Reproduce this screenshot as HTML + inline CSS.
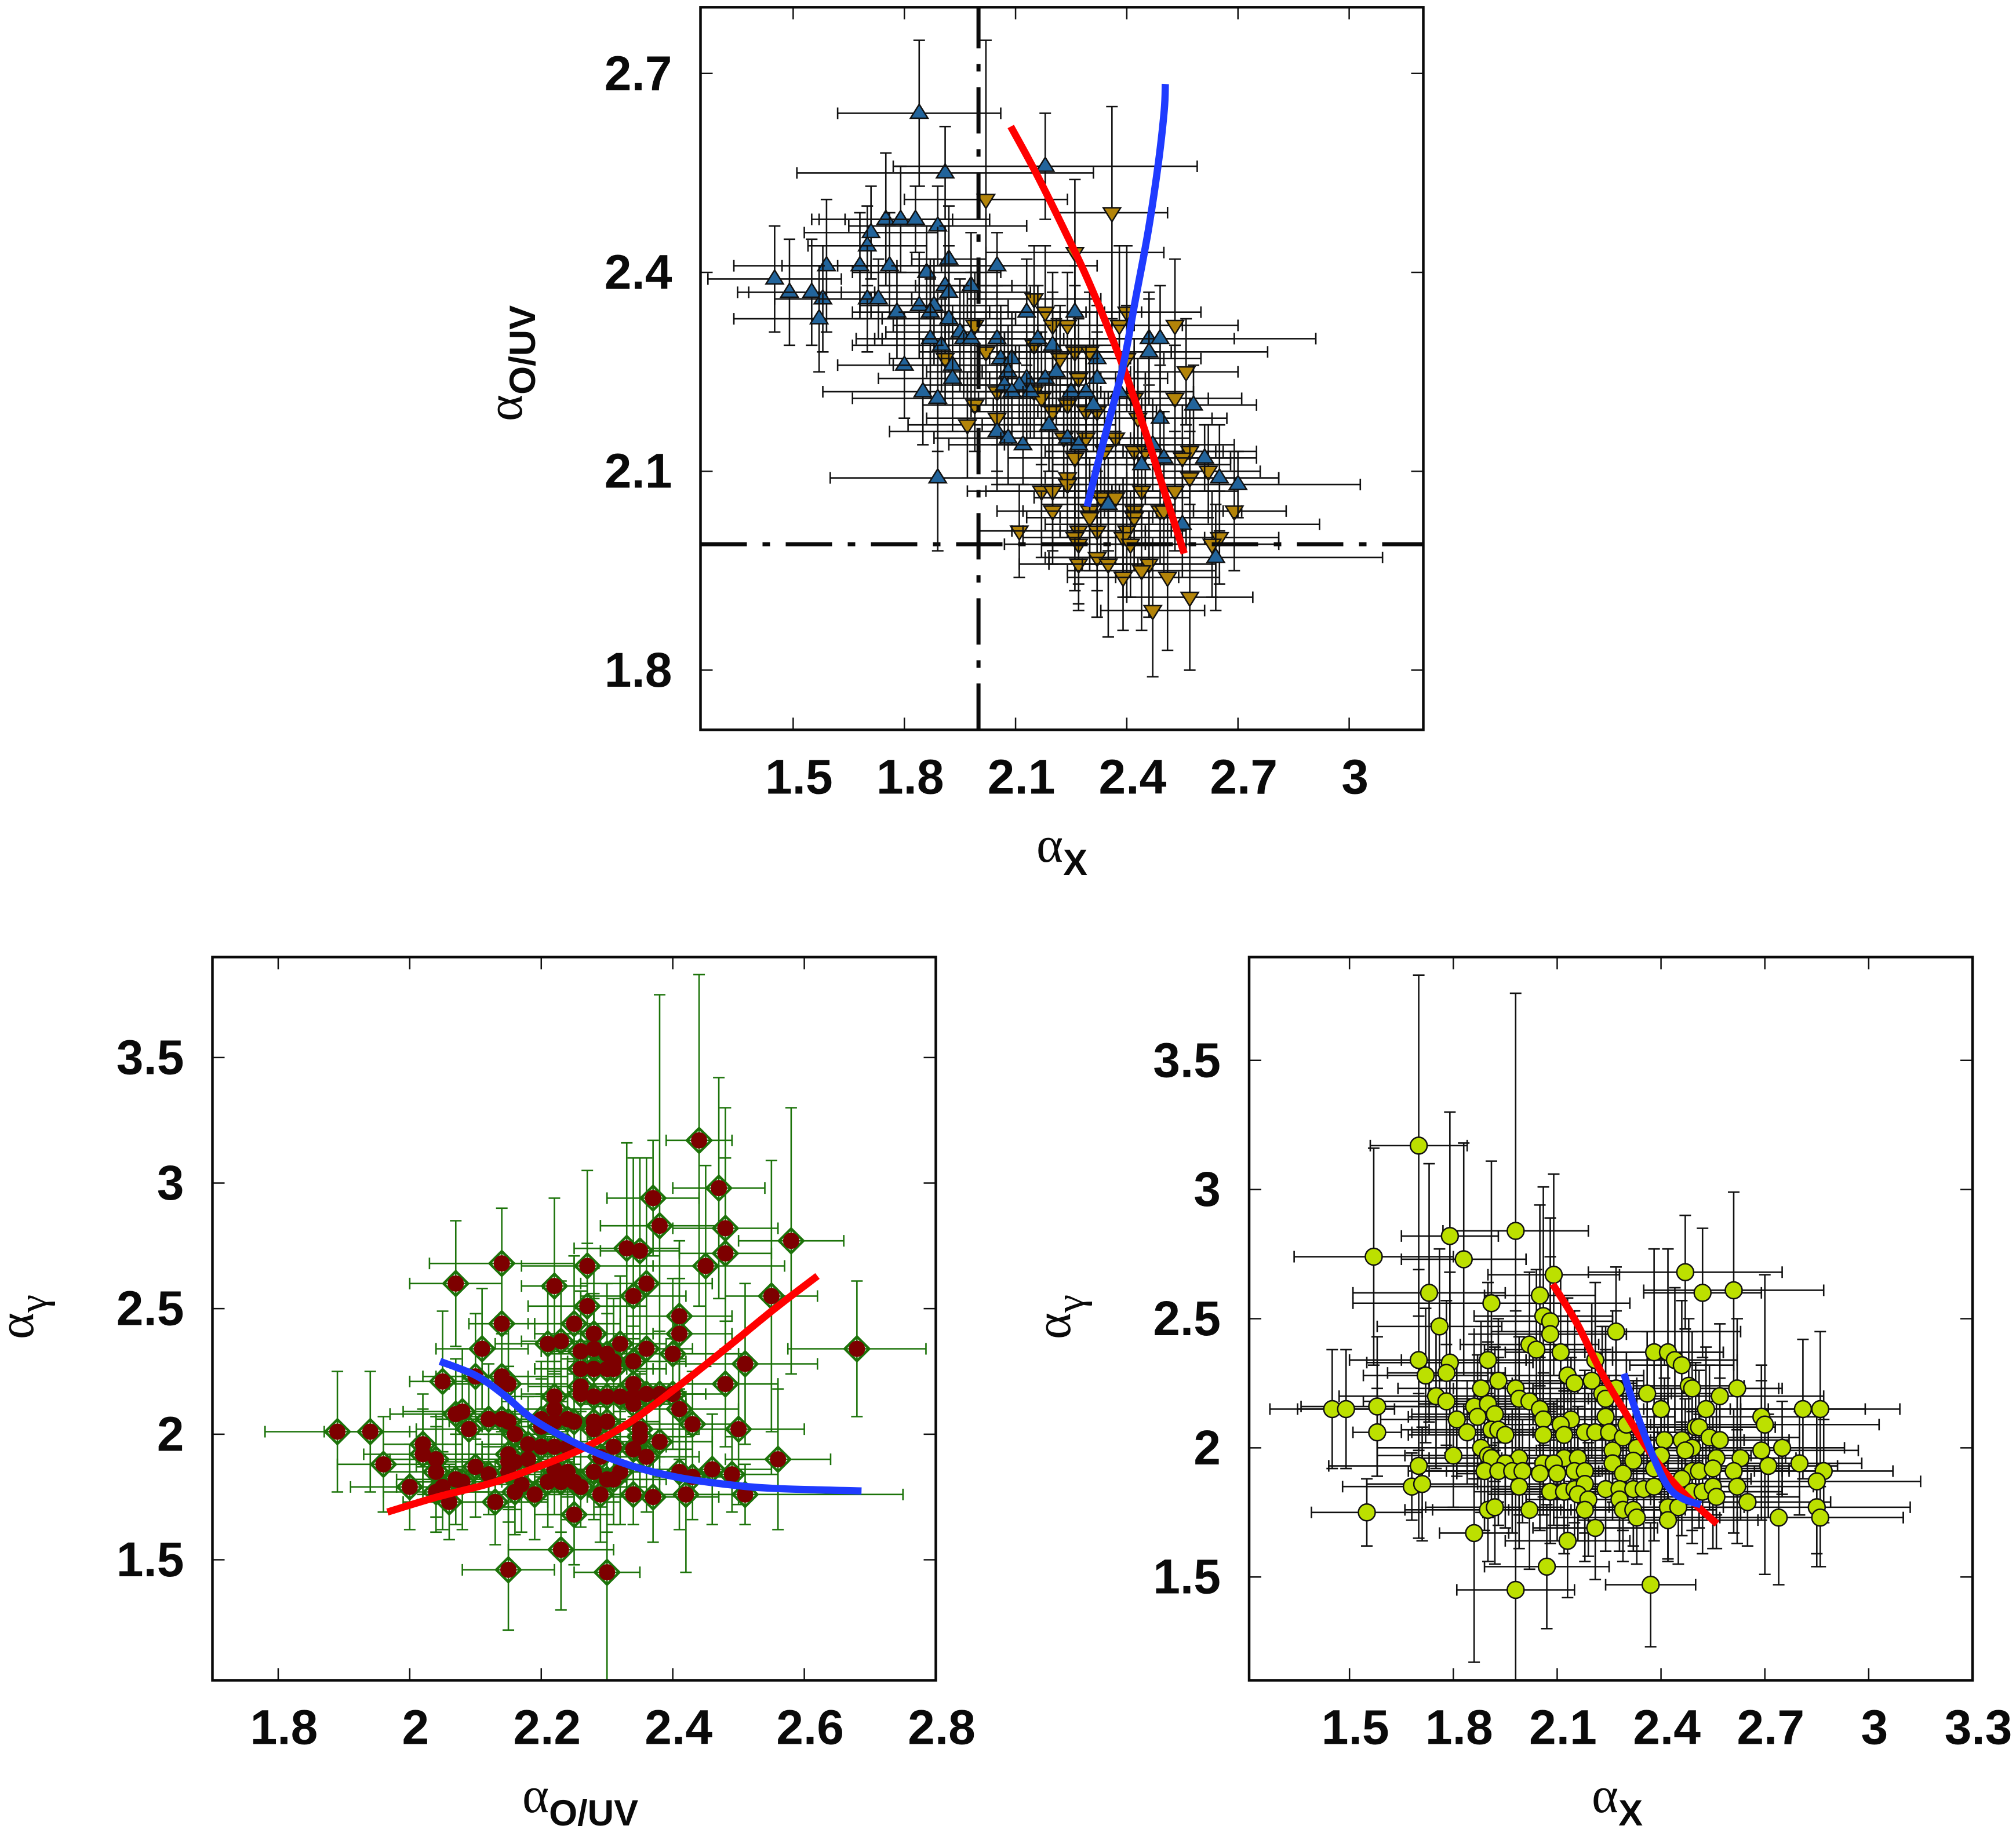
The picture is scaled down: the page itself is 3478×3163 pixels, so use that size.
<!DOCTYPE html>
<html lang="en">
<head>
<meta charset="utf-8">
<title>Spectral index scatter panels</title>
<style>
html,body{margin:0;padding:0;background:#fff;width:3478px;height:3163px;overflow:hidden}
svg{display:block}
.tick-label{font-family:"Liberation Sans",sans-serif;font-weight:700;font-size:84px;fill:#0a0a0a}
.sym{font-family:"Liberation Serif",serif;font-size:88px;font-weight:400;fill:#0a0a0a}
.sub{font-family:"Liberation Sans",sans-serif;font-size:63px;font-weight:700;fill:#0a0a0a}
.subg{font-family:"Liberation Serif",serif;font-size:70px;font-weight:400;fill:#0a0a0a}
</style>
</head>
<body>
<svg id="chart" xmlns="http://www.w3.org/2000/svg" width="3478" height="3163" viewBox="0 0 3478 3163">
  <defs>
    <clipPath id="clip-top"><rect x="1209" y="12" width="1247" height="1247"/></clipPath>
    <clipPath id="clip-left"><rect x="366" y="1651" width="1248" height="1248"/></clipPath>
    <clipPath id="clip-right"><rect x="2155" y="1651" width="1248" height="1248"/></clipPath>
  </defs>
  <g id="panel-top"></g>
  <g id="panel-left"></g>
  <g id="panel-right"></g>
  <text class="sym" x="1788" y="1487">α<tspan class="sub" dy="23">X</tspan></text>
  <text class="sym" transform="translate(900,727) rotate(-90)">α<tspan class="sub" dy="23">O/UV</tspan></text>
  <text class="sym" x="901" y="3127">α<tspan class="sub" dy="23">O/UV</tspan></text>
  <text class="sym" transform="translate(57,2311) rotate(-90)">α<tspan class="subg" dy="23">γ</tspan></text>
  <text class="sym" x="2746" y="3127">α<tspan class="sub" dy="23">X</tspan></text>
  <text class="sym" transform="translate(1846,2311) rotate(-90)">α<tspan class="subg" dy="23">γ</tspan></text>
</svg>
<script>
// ---------- tick values ----------
const topXTicks = [1.5,1.8,2.1,2.4,2.7,3];
const topXTickLabels = ["1.5","1.8","2.1","2.4","2.7","3"];
const topYTicks = [1.8,2.1,2.4,2.7];
const topYTickLabels = ["1.8","2.1","2.4","2.7"];
const leftXTicks = [1.8,2,2.2,2.4,2.6,2.8];
const leftXTickLabels = ["1.8","2","2.2","2.4","2.6","2.8"];
const gammaTicks = [1.5,2,2.5,3,3.5];
const gammaTickLabels = ["1.5","2","2.5","3","3.5"];
const rightXTicks = [1.5,1.8,2.1,2.4,2.7,3,3.3];
const rightXTickLabels = ["1.5","1.8","2.1","2.4","2.7","3","3.3"];

// ---------- top panel: blue up-triangles ----------
const blueX = [1.84,1.91,2.18,1.75,1.79,1.83,1.89,1.71,1.70,1.68,
1.59,1.76,1.86,1.92,2.05,1.45,1.49,1.55,1.58,1.57,
1.91,1.92,1.98,1.70,1.73,1.84,1.88,1.87,1.78,1.92,
2.13,2.26,1.95,1.87,1.90,1.96,1.98,2.05,2.16,2.46,
2.49,2.20,2.46,2.06,2.09,2.32,1.80,1.93,2.08,2.21,
1.93,2.18,2.13,2.32,2.07,2.11,1.85,2.09,2.14,2.25,
2.29,2.38,2.58,1.89,2.31,2.49,2.19,2.05,2.24,2.08,
2.12,2.27,2.47,2.50,2.61,2.44,1.89,2.65,2.70,2.35,
2.55,2.64];
const blueY = [2.64,2.55,2.56,2.48,2.48,2.48,2.47,2.46,2.44,2.41,
2.41,2.41,2.40,2.42,2.41,2.39,2.37,2.37,2.36,2.33,
2.38,2.37,2.38,2.36,2.36,2.35,2.35,2.34,2.34,2.33,
2.34,2.34,2.31,2.30,2.29,2.30,2.30,2.30,2.30,2.30,
2.30,2.29,2.28,2.27,2.27,2.27,2.26,2.26,2.25,2.25,
2.24,2.24,2.24,2.24,2.23,2.23,2.22,2.22,2.22,2.22,
2.22,2.22,2.20,2.21,2.20,2.18,2.17,2.16,2.15,2.15,
2.14,2.14,2.14,2.12,2.12,2.11,2.09,2.09,2.08,2.05,
2.02,1.97];
const blueXErr = [.22,.40,.41,.18,.24,.19,.24,.18,.16,.34,
.12,.14,.20,.10,.27,.18,.14,.17,.13,.23,
.18,.22,.15,.12,.16,.14,.20,.16,.12,.18,
.16,.18,.20,.20,.24,.22,.26,.15,.20,.23,
.42,.18,.32,.18,.20,.18,.18,.16,.22,.20,
.20,.15,.18,.19,.22,.16,.27,.20,.18,.18,
.16,.20,.17,.23,.16,.18,.18,.29,.18,.20,
.20,.20,.22,.18,.14,.24,.29,.16,.33,.18,
.37,.45];
const blueYErr = [.11,.07,.08,.10,.08,.05,.06,.07,.06,.08,
.10,.08,.07,.08,.05,.08,.08,.08,.08,.08,
.09,.07,.08,.08,.06,.08,.07,.08,.07,.08,
.08,.07,.08,.09,.07,.08,.10,.08,.08,.07,
.08,.08,.08,.08,.07,.08,.08,.09,.07,.08,
.08,.08,.07,.07,.08,.06,.08,.08,.07,.08,
.07,.08,.06,.08,.07,.08,.07,.08,.08,.07,
.06,.08,.07,.07,.05,.08,.11,.08,.05,.07,
.08,.08];

// ---------- top panel: brown down-triangles ----------
const brownX = [2.02,2.36,2.26,2.15,2.18,2.40,1.99,2.24,2.38,2.53,
2.20,2.15,2.02,2.22,2.26,2.30,2.40,1.91,2.56,2.27,
2.05,2.15,2.17,2.42,2.53,1.99,2.20,2.24,2.29,2.32,
2.05,2.43,1.97,2.23,2.29,2.37,2.34,2.42,2.45,2.57,
2.55,2.26,2.62,2.24,2.24,2.57,2.17,2.20,2.44,2.53,
2.33,2.37,2.20,2.30,2.42,2.49,2.50,2.69,2.42,2.30,
2.11,2.27,2.32,2.40,2.26,2.39,2.65,2.63,2.27,2.41,
2.32,2.27,2.35,2.46,2.44,2.39,2.51,2.57,2.47];
const brownY = [2.51,2.49,2.43,2.36,2.34,2.34,2.32,2.32,2.32,2.32,
2.32,2.29,2.28,2.27,2.28,2.28,2.27,2.27,2.25,2.24,
2.22,2.22,2.21,2.21,2.21,2.20,2.19,2.20,2.19,2.19,
2.18,2.18,2.17,2.15,2.15,2.15,2.13,2.13,2.13,2.13,
2.12,2.12,2.10,2.09,2.08,2.09,2.07,2.07,2.07,2.07,
2.06,2.06,2.04,2.04,2.04,2.04,2.04,2.04,2.03,2.03,
2.01,2.01,2.01,2.01,2.00,2.00,2.00,1.99,1.99,1.99,
1.97,1.96,1.96,1.96,1.95,1.94,1.94,1.91,1.89];
const brownXErr = [.22,.15,.24,.18,.16,.20,.22,.18,.17,.17,
.20,.16,.18,.19,.16,.22,.20,.15,.14,.18,
.16,.18,.17,.20,.18,.14,.22,.20,.18,.16,
.19,.20,.16,.18,.16,.20,.16,.24,.19,.18,
.15,.18,.14,.16,.19,.24,.20,.18,.21,.17,
.18,.20,.15,.18,.16,.22,.16,.14,.20,.17,
.11,.18,.20,.16,.14,.22,.16,.18,.20,.15,
.14,.16,.16,.18,.20,.15,.14,.17,.14];
const brownYErr = [.24,.16,.11,.08,.10,.10,.08,.08,.12,.10,
.08,.09,.08,.08,.10,.09,.08,.07,.08,.09,
.08,.07,.10,.09,.08,.07,.09,.08,.08,.10,
.08,.09,.08,.07,.09,.10,.08,.09,.08,.08,
.08,.09,.07,.08,.08,.07,.10,.09,.08,.09,
.09,.10,.08,.08,.09,.08,.10,.09,.08,.08,
.07,.08,.09,.10,.08,.09,.07,.08,.09,.08,
.09,.07,.11,.08,.09,.08,.11,.11,.10];

// ---------- left panel: optical vs gamma ----------
const leftX = [2.44,2.47,2.37,2.38,2.48,2.58,2.33,2.35,2.48,2.45,
2.14,2.27,2.07,2.22,2.36,2.34,2.55,2.27,2.41,2.25,
2.14,2.28,2.41,2.21,2.23,2.32,2.11,2.36,2.68,2.40,
2.26,2.28,2.30,2.31,2.34,2.51,2.26,2.28,2.30,2.31,
2.05,2.10,2.14,2.15,2.14,2.48,2.34,2.26,2.26,2.22,
2.28,2.30,2.32,2.34,2.36,2.38,2.40,2.22,2.41,2.34,
2.43,2.07,2.08,2.09,2.12,2.14,2.15,2.16,2.20,2.20,
2.22,2.24,2.25,2.28,2.30,2.28,2.35,2.35,2.50,2.38,
2.02,2.02,2.18,2.20,2.22,2.24,2.31,2.34,2.04,2.15,
2.16,2.18,2.29,2.36,2.56,2.15,1.96,2.10,2.04,2.12,
2.15,2.22,2.24,2.41,2.43,2.46,2.49,2.28,2.32,2.07,
2.08,2.05,2.00,2.04,2.17,2.21,2.23,2.25,2.30,2.31,
2.16,2.19,2.26,2.29,2.34,2.37,2.42,2.51,2.13,2.06,
2.25,2.23,2.15,2.30,1.89,1.94];
const leftY = [3.17,2.98,2.94,2.83,2.82,2.77,2.74,2.73,2.72,2.67,
2.68,2.67,2.60,2.59,2.60,2.55,2.55,2.51,2.47,2.44,
2.44,2.40,2.40,2.36,2.37,2.36,2.34,2.34,2.34,2.32,
2.33,2.34,2.32,2.29,2.29,2.28,2.26,2.26,2.26,2.26,
2.21,2.23,2.23,2.20,2.20,2.20,2.20,2.19,2.16,2.15,
2.15,2.15,2.15,2.15,2.16,2.16,2.16,2.10,2.10,2.12,
2.04,2.08,2.09,2.02,2.06,2.06,2.05,2.00,2.06,2.03,
2.05,2.06,2.05,2.05,2.05,2.02,2.02,1.99,2.02,1.97,
1.96,1.92,1.96,1.95,1.95,1.95,1.95,1.94,1.90,1.92,
1.89,1.90,1.91,1.91,1.90,1.89,1.88,1.87,1.85,1.84,
1.85,1.86,1.85,1.85,1.83,1.86,1.84,1.85,1.85,1.82,
1.81,1.79,1.79,1.77,1.80,1.81,1.81,1.81,1.82,1.82,
1.77,1.76,1.79,1.76,1.76,1.75,1.76,1.76,1.73,1.73,
1.68,1.54,1.46,1.45,2.01,2.01];
const leftXErr = [.05,.07,.07,.09,.08,.08,.08,.06,.07,.12,
.11,.10,.07,.05,.10,.08,.07,.09,.08,.07,
.05,.09,.08,.08,.06,.07,.07,.07,.105,.10,
.06,.08,.09,.07,.08,.11,.07,.09,.06,.08,
.05,.08,.10,.09,.07,.08,.07,.08,.09,.07,
.08,.09,.07,.08,.09,.07,.08,.06,.09,.08,
.07,.10,.09,.08,.07,.10,.09,.08,.11,.09,
.08,.07,.09,.10,.08,.07,.09,.08,.10,.08,
.06,.09,.08,.09,.07,.10,.08,.09,.07,.08,
.08,.07,.09,.08,.08,.10,.07,.09,.08,.07,
.09,.08,.07,.08,.06,.09,.07,.10,.08,.09,
.08,.07,.09,.08,.09,.07,.10,.08,.09,.07,
.09,.07,.08,.09,.08,.10,.08,.24,.08,.07,
.06,.08,.07,.05,.11,.07];
const leftYErr = [.66,.44,.23,.92,.48,.53,.42,.37,.38,.40,
.22,.38,.25,.35,.50,.55,.54,.25,.30,.27,
.24,.26,.22,.22,.24,.27,.24,.23,.27,.30,
.24,.22,.28,.25,.22,.32,.24,.28,.22,.25,
.28,.25,.22,.24,.20,.25,.23,.22,.21,.20,
.24,.20,.22,.23,.21,.25,.22,.19,.20,.24,
.21,.22,.25,.20,.22,.19,.22,.20,.23,.19,
.20,.24,.19,.22,.21,.18,.23,.25,.30,.22,
.20,.18,.19,.21,.18,.20,.22,.19,.17,.21,
.19,.17,.20,.22,.28,.18,.19,.20,.18,.16,
.20,.18,.19,.23,.17,.22,.15,.19,.21,.18,
.19,.17,.17,.16,.19,.18,.20,.16,.21,.18,
.17,.18,.16,.19,.12,.18,.31,.12,.17,.15,
.20,.24,.24,.45,.24,.24];

// ---------- right panel: X vs gamma ----------
const rightX = [1.70,1.79,1.98,1.57,1.83,2.09,2.47,2.52,2.61,1.73,
2.05,1.91,2.06,2.08,2.08,1.76,2.27,2.02,2.04,2.11,
2.38,2.42,2.44,2.46,2.21,1.70,1.79,1.90,1.72,1.78,
2.13,2.15,1.93,2.20,1.88,1.98,1.99,2.02,1.75,1.78,
2.27,2.23,2.24,2.36,2.48,2.49,2.62,2.57,2.40,2.53,
1.45,1.49,1.58,1.58,2.81,2.86,1.86,1.90,2.05,1.92,
1.87,1.81,1.84,2.06,2.14,1.91,1.93,1.95,2.06,2.11,
2.12,2.18,2.21,2.24,2.25,2.29,2.30,2.69,2.70,2.50,
2.51,2.41,2.33,2.46,2.49,2.54,2.57,2.47,1.88,1.80,
1.90,1.91,2.26,2.40,2.69,2.75,2.56,2.63,2.12,2.16,
1.99,1.95,2.06,2.09,1.70,2.71,2.80,2.26,2.32,1.89,
1.93,1.97,2.00,2.05,2.10,2.15,2.18,2.29,2.38,2.49,
2.51,2.55,2.61,2.87,2.85,1.68,1.71,1.99,2.08,2.12,
2.15,2.18,2.24,2.28,2.32,2.35,2.38,2.46,2.49,2.52,
2.55,2.56,2.62,2.16,2.19,2.28,2.65,2.18,2.02,1.90,
1.92,2.29,2.32,1.55,2.42,2.45,2.42,2.33,2.74,2.85,
2.86,2.21,1.86,2.13,2.07,1.98,2.37];
const rightY = [3.17,2.82,2.84,2.74,2.73,2.67,2.68,2.60,2.61,2.60,
2.59,2.56,2.51,2.49,2.44,2.47,2.45,2.40,2.38,2.37,
2.37,2.37,2.34,2.32,2.34,2.34,2.33,2.34,2.28,2.29,
2.28,2.25,2.26,2.26,2.23,2.23,2.19,2.18,2.20,2.18,
2.23,2.21,2.19,2.21,2.24,2.23,2.23,2.20,2.15,2.15,
2.15,2.15,2.16,2.06,2.15,2.15,2.16,2.17,2.15,2.13,
2.12,2.11,2.06,2.11,2.11,2.07,2.07,2.05,2.05,2.09,
2.05,2.06,2.06,2.12,2.06,2.04,2.09,2.12,2.09,2.08,
2.08,2.03,2.00,2.03,2.00,2.04,2.03,1.99,2.00,1.97,
1.97,1.96,1.99,1.97,1.99,2.00,1.96,1.96,1.96,1.96,
1.96,1.94,1.94,1.94,1.93,1.93,1.94,1.94,1.95,1.91,
1.91,1.91,1.91,1.90,1.90,1.91,1.91,1.90,1.92,1.91,
1.91,1.92,1.91,1.91,1.87,1.85,1.86,1.85,1.83,1.83,
1.84,1.86,1.84,1.84,1.84,1.84,1.85,1.88,1.83,1.83,
1.85,1.81,1.85,1.82,1.80,1.80,1.79,1.76,1.76,1.76,
1.77,1.76,1.76,1.75,1.77,1.77,1.72,1.73,1.73,1.77,
1.73,1.69,1.67,1.64,1.54,1.45,1.47];
const rightXErr = [.14,.14,.21,.23,.18,.19,.28,.17,.26,.22,
.16,.40,.20,.18,.22,.18,.36,.20,.15,.16,
.20,.16,.18,.15,.20,.20,.24,.25,.18,.17,
.22,.18,.20,.15,.24,.18,.20,.22,.28,.24,
.24,.20,.18,.22,.16,.26,.12,.30,.20,.18,
.18,.14,.22,.07,.18,.23,.26,.20,.22,.24,
.20,.22,.16,.24,.18,.26,.20,.28,.18,.20,
.22,.24,.18,.20,.26,.22,.18,.18,.33,.20,
.22,.20,.24,.18,.22,.26,.20,.24,.30,.22,
.24,.20,.22,.26,.28,.18,.20,.16,.24,.22,
.26,.24,.22,.28,.26,.20,.18,.24,.20,.22,
.20,.26,.22,.24,.18,.26,.20,.24,.22,.28,
.24,.22,.26,.20,.30,.20,.16,.28,.22,.20,
.24,.20,.22,.26,.18,.22,.24,.20,.26,.22,
.20,.24,.22,.26,.18,.20,.24,.22,.28,.24,
.20,.18,.24,.16,.22,.20,.26,.24,.36,.27,
.24,.18,.10,.18,.18,.17,.13];
const rightYErr = [.66,.48,.92,.42,.45,.39,.22,.25,.38,.50,
.35,.55,.50,.40,.30,.30,.25,.28,.31,.30,
.40,.40,.28,.25,.30,.35,.35,.30,.26,.28,
.30,.28,.24,.30,.26,.30,.24,.26,.28,.22,
.30,.26,.28,.24,.26,.22,.27,.28,.22,.24,
.23,.23,.27,.17,.27,.30,.28,.24,.20,.26,
.24,.22,.20,.26,.24,.22,.28,.20,.24,.26,
.22,.24,.20,.26,.22,.24,.28,.20,.58,.25,
.22,.24,.26,.20,.22,.28,.24,.20,.25,.20,
.24,.22,.20,.24,.27,.18,.22,.24,.26,.20,
.22,.25,.20,.24,.28,.20,.20,.22,.24,.23,
.21,.24,.20,.22,.26,.20,.24,.22,.20,.23,
.22,.20,.24,.20,.28,.13,.22,.24,.20,.24,
.20,.22,.24,.20,.22,.24,.21,.22,.20,.24,
.24,.20,.22,.18,.22,.20,.17,.20,.23,.20,
.22,.20,.16,.13,.20,.22,.16,.18,.26,.23,
.19,.20,.50,.22,.24,.46,.24];

// ---------- model curves ----------
const topRedX = [2.087,2.155,2.235,2.298,2.384,2.451,2.505,2.555];
const topRedY = [2.62,2.55,2.46,2.385,2.267,2.158,2.063,1.976];
const topBlueX = [2.504,2.501,2.485,2.458,2.424,2.39,2.35,2.323,2.293];
const topBlueY = [2.684,2.644,2.564,2.463,2.361,2.259,2.172,2.114,2.047];
const leftRedX = [1.966,2.042,2.13,2.21,2.27,2.335,2.408,2.482,2.555,2.62];
const leftRedY = [1.69,1.75,1.81,1.885,1.952,2.048,2.19,2.344,2.50,2.63];
const leftBlueX = [2.046,2.101,2.145,2.189,2.262,2.335,2.408,2.482,2.555,2.687];
const leftBlueY = [2.29,2.233,2.153,2.057,1.952,1.876,1.828,1.80,1.784,1.774];
const rightRedX = [2.087,2.157,2.226,2.296,2.365,2.435,2.504,2.562];
const rightRedY = [2.634,2.482,2.296,2.138,1.989,1.868,1.775,1.706];
const rightBlueX = [2.293,2.331,2.379,2.421,2.463,2.515];
const rightBlueY = [2.287,2.128,1.961,1.849,1.803,1.78];

// ---------- reference lines ----------
const refLineX = [2.0];
const refLineY = [1.99];

// ---------- drawing ----------
const SVGNS = "http://www.w3.org/2000/svg";
function make(tag, parent){
  const el = document.createElementNS(SVGNS, tag);
  parent.appendChild(el);
  return el;
}
function axes(left, top, size, xmin, xmax, ymin, ymax){
  return {
    left, top, size,
    sx: v => left + (v - xmin) / (xmax - xmin) * size,
    sy: v => top + size - (v - ymin) / (ymax - ymin) * size
  };
}
const CAP = 10;
function errorPath(a, x, y, xe, ye){
  const px = a.sx(x), py = a.sy(y), x0 = a.sx(x - xe), x1 = a.sx(x + xe), y0 = a.sy(y - ye), y1 = a.sy(y + ye);
  return "M" + x0 + " " + py + "H" + x1 +
         "M" + x0 + " " + (py - CAP) + "V" + (py + CAP) +
         "M" + x1 + " " + (py - CAP) + "V" + (py + CAP) +
         "M" + px + " " + y0 + "V" + y1 +
         "M" + (px - CAP) + " " + y0 + "H" + (px + CAP) +
         "M" + (px - CAP) + " " + y1 + "H" + (px + CAP);
}
function drawBar(parent, a, x, y, xe, ye, color){
  const bar = make("path", parent);
  
  
  bar.setAttribute("d", errorPath(a, x, y, xe, ye));
  bar.setAttribute("fill", "none");
  bar.setAttribute("stroke", color);
  bar.setAttribute("stroke-width", "2.6");
}
function drawTriangles(parent, a, xs, ys, xes, yes, up, fill){
  xs.forEach((x, i) => {
    drawBar(parent, a, x, ys[i], xes[i], yes[i], "#111");
    const px = a.sx(x), py = a.sy(ys[i]);
    const s = up ? 1 : -1;
    const tri = make("path", parent);
    
    
    tri.setAttribute("d", "M" + px + " " + (py - 15.5 * s) + "L" + (px + 15) + " " + (py + 8.5 * s) + "L" + (px - 15) + " " + (py + 8.5 * s) + "Z");
    tri.setAttribute("fill", fill);
    tri.setAttribute("stroke", "#111");
    tri.setAttribute("stroke-width", "2.5");
    tri.setAttribute("stroke-linejoin", "miter");
  });
}
function drawCurve(parent, a, xs, ys, color, name){
  const pts = xs.map((x, i) => [a.sx(x), a.sy(ys[i])]);
  let d = "M" + pts[0][0] + " " + pts[0][1];
  for (let i = 0; i < pts.length - 1; i++){
    const p0 = pts[Math.max(i - 1, 0)], p1 = pts[i], p2 = pts[i + 1], p3 = pts[Math.min(i + 2, pts.length - 1)];
    d += "C" + (p1[0] + (p2[0] - p0[0]) / 6) + " " + (p1[1] + (p2[1] - p0[1]) / 6) + " " +
         (p2[0] - (p3[0] - p1[0]) / 6) + " " + (p2[1] - (p3[1] - p1[1]) / 6) + " " + p2[0] + " " + p2[1];
  }
  const line = make("path", parent);
  
  
  line.setAttribute("d", d);
  line.setAttribute("fill", "none");
  line.setAttribute("stroke", color);
  line.setAttribute("stroke-width", "12.5");
  line.setAttribute("stroke-linejoin", "round");
}
function drawFrame(parent, a, xTicks, xLabels, yTicks, yLabels){
  const L = a.left, T = a.top, S = a.size, R = L + S, B = T + S;
  const tickMarks = make("path", parent);
  
  
  let d = "";
  xTicks.forEach(t => { const p = a.sx(t); if (p < R - 3) d += "M" + p + " " + B + "v-21M" + p + " " + T + "v21"; });
  yTicks.forEach(t => { const p = a.sy(t); d += "M" + L + " " + p + "h21M" + R + " " + p + "h-21"; });
  tickMarks.setAttribute("d", d);
  tickMarks.setAttribute("stroke", "#111");
  tickMarks.setAttribute("stroke-width", "2.5");
  tickMarks.setAttribute("fill", "none");
  const frame = make("rect", parent);
  
  
  frame.setAttribute("x", L);
  frame.setAttribute("y", T);
  frame.setAttribute("width", S);
  frame.setAttribute("height", S);
  frame.setAttribute("fill", "none");
  frame.setAttribute("stroke", "#0a0a0a");
  frame.setAttribute("stroke-width", "4.5");
  xTicks.forEach((t, i) => {
    const lab = make("text", parent);
    
    
    lab.setAttribute("class", "tick-label");
    lab.setAttribute("x", a.sx(t) + 10);
    lab.setAttribute("y", B + 110);
    lab.setAttribute("text-anchor", "middle");
    lab.textContent = xLabels[i];
  });
  yTicks.forEach((t, i) => {
    const lab = make("text", parent);
    
    
    lab.setAttribute("class", "tick-label");
    lab.setAttribute("x", L - 49);
    lab.setAttribute("y", a.sy(t) + 28.5);
    lab.setAttribute("text-anchor", "end");
    lab.textContent = yLabels[i];
  });
}

// top panel
(function(){
  const a = axes(1208.5, 12.4, 1247, 1.25, 3.2, 1.71, 2.8);
  const root = document.getElementById("panel-top");
  const plot = make("g", root);
  
  
  plot.setAttribute("clip-path", "url(#clip-top)");
  drawTriangles(plot, a, brownX, brownY, brownXErr, brownYErr, false, "#b38409");
  const vLine = make("line", plot);
  
  
  vLine.setAttribute("x1", a.sx(refLineX[0]));
  vLine.setAttribute("x2", a.sx(refLineX[0]));
  vLine.setAttribute("y1", a.top + a.size);
  vLine.setAttribute("y2", a.top);
  const hLine = make("line", plot);
  
  
  hLine.setAttribute("x1", a.left);
  hLine.setAttribute("x2", a.left + a.size);
  hLine.setAttribute("y1", a.sy(refLineY[0]));
  hLine.setAttribute("y2", a.sy(refLineY[0]));
  [vLine, hLine].forEach(l => {
    l.setAttribute("stroke", "#0a0a0a");
    l.setAttribute("stroke-width", "7");
    l.setAttribute("stroke-dasharray", "80 27 13 27");
  });
  drawTriangles(plot, a, blueX, blueY, blueXErr, blueYErr, true, "#22649b");
  drawCurve(plot, a, topRedX, topRedY, "#ff0000", "red-model-curve");
  drawCurve(plot, a, topBlueX, topBlueY, "#1f3bff", "blue-model-curve");
  drawFrame(root, a, topXTicks, topXTickLabels, topYTicks, topYTickLabels);
})();

// left panel
(function(){
  const a = axes(366.5, 1651.5, 1248, 1.7, 2.8, 1.02, 3.9);
  const root = document.getElementById("panel-left");
  const plot = make("g", root);
  
  
  plot.setAttribute("clip-path", "url(#clip-left)");
  leftX.forEach((x, i) => {
    drawBar(plot, a, x, leftY[i], leftXErr[i], leftYErr[i], "#1c730a");
    const px = a.sx(x), py = a.sy(leftY[i]);
    const diamond = make("path", plot);
    
    
    diamond.setAttribute("d", "M" + px + " " + (py - 21) + "L" + (px + 21) + " " + py + "L" + px + " " + (py + 21) + "L" + (px - 21) + " " + py + "Z");
    diamond.setAttribute("fill", "none");
    diamond.setAttribute("stroke", "#1c730a");
    diamond.setAttribute("stroke-width", "4.5");
  });
  leftX.forEach((x, i) => {
    const dot = make("circle", plot);
    
    
    dot.setAttribute("cx", a.sx(x));
    dot.setAttribute("cy", a.sy(leftY[i]));
    dot.setAttribute("r", "14");
    dot.setAttribute("fill", "#7d0000");
  });
  drawCurve(plot, a, leftRedX, leftRedY, "#ff0000", "red-model-curve");
  drawCurve(plot, a, leftBlueX, leftBlueY, "#1f3bff", "blue-model-curve");
  drawFrame(root, a, leftXTicks, leftXTickLabels, gammaTicks, gammaTickLabels);
})();

// right panel
(function(){
  const a = axes(2155, 1651.5, 1248, 1.21, 3.3, 1.1, 3.9);
  const root = document.getElementById("panel-right");
  const plot = make("g", root);
  
  
  plot.setAttribute("clip-path", "url(#clip-right)");
  rightX.forEach((x, i) => {
    drawBar(plot, a, x, rightY[i], rightXErr[i], rightYErr[i], "#111");
  });
  rightX.forEach((x, i) => {
    const dot = make("circle", plot);
    
    
    dot.setAttribute("cx", a.sx(x));
    dot.setAttribute("cy", a.sy(rightY[i]));
    dot.setAttribute("r", "14.5");
    dot.setAttribute("fill", "#bce000");
    dot.setAttribute("stroke", "#111");
    dot.setAttribute("stroke-width", "2.5");
  });
  drawCurve(plot, a, rightRedX, rightRedY, "#ff0000", "red-model-curve");
  drawCurve(plot, a, rightBlueX, rightBlueY, "#1f3bff", "blue-model-curve");
  drawFrame(root, a, rightXTicks, rightXTickLabels, gammaTicks, gammaTickLabels);
})();
</script>
</body>
</html>
